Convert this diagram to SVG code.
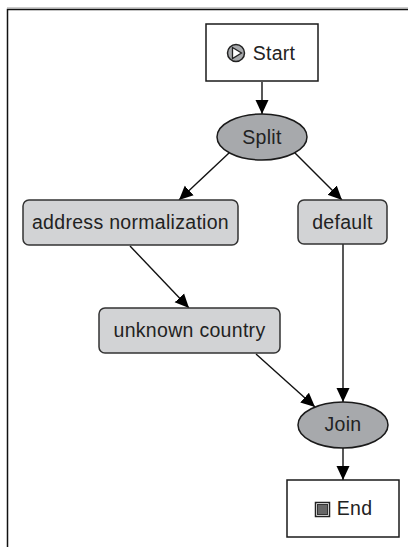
<svg xmlns="http://www.w3.org/2000/svg" width="408" height="547" viewBox="0 0 408 547">
<style>
text{font-family:"Liberation Sans",Arial,sans-serif;font-size:19.500px;letter-spacing:.3px;fill:#222;text-anchor:middle}
.box{fill:#fff;stroke:#1a1a1a;stroke-width:1.500}
.task{fill:#d2d3d5;stroke:#333;stroke-width:1.500}
.gw{fill:#a7a9ac;stroke:#1a1a1a;stroke-width:1.500}
.edge{fill:none;stroke:#111;stroke-width:1.400;marker-end:url(#arrow)}
</style>
<defs><marker id="arrow" markerUnits="userSpaceOnUse" markerWidth="15" markerHeight="15" refX="14" refY="7.500" orient="auto"><path d="M0 1L14 7.500L0 14z" fill="#000"/></marker></defs>
<rect width="408" height="547" fill="#fff"/>
<path d="M7.500 547V9.500H408" fill="none" stroke="#111" stroke-width="1.500"/>
<path d="M7 8H408" stroke="#999" stroke-width="1" fill="none"/>
<g id="connectors">
<path class="edge" d="M262 82V114"/>
<path class="edge" d="M229 153L179 200"/>
<path class="edge" d="M295 153L342 200"/>
<path class="edge" d="M130 246L189 308"/>
<path class="edge" d="M343 244V402"/>
<path class="edge" d="M256 354L315 407"/>
<path class="edge" d="M343 448V480"/>
</g>
<g id="start"><rect class="box" x="206" y="24" width="112" height="57"/>
<circle cx="236" cy="53" r="8.500" fill="#a7a9ac" stroke="#222" stroke-width="1.500"/><path d="M232.500 47.500L241.500 53L232.500 58.500z" fill="#fff" stroke="#222" stroke-width="1.300"/>
<text x="274" y="60">Start</text></g>
<g id="split"><ellipse class="gw" cx="262" cy="137" rx="45" ry="23"/><text x="262" y="144">Split</text></g>
<g id="address"><rect class="task" x="23" y="200" width="215" height="45" rx="6"/><text x="130.500" y="229">address normalization</text></g>
<g id="default"><rect class="task" x="298" y="200" width="89" height="44" rx="6"/><text x="342.500" y="229">default</text></g>
<g id="unknown"><rect class="task" x="99" y="308" width="181" height="45" rx="6"/><text x="189.500" y="337">unknown country</text></g>
<g id="join"><ellipse class="gw" cx="343" cy="425" rx="45" ry="23"/><text x="343" y="431">Join</text></g>
<g id="end"><rect class="box" x="287" y="480" width="112" height="57"/>
<rect x="315.500" y="502.500" width="14" height="14" fill="#fff" stroke="#222" stroke-width="1.500"/>
<rect x="317.500" y="504.500" width="10" height="10" fill="#666" stroke="#333" stroke-width="1"/>
<text x="354.500" y="515">End</text></g>
</svg>
